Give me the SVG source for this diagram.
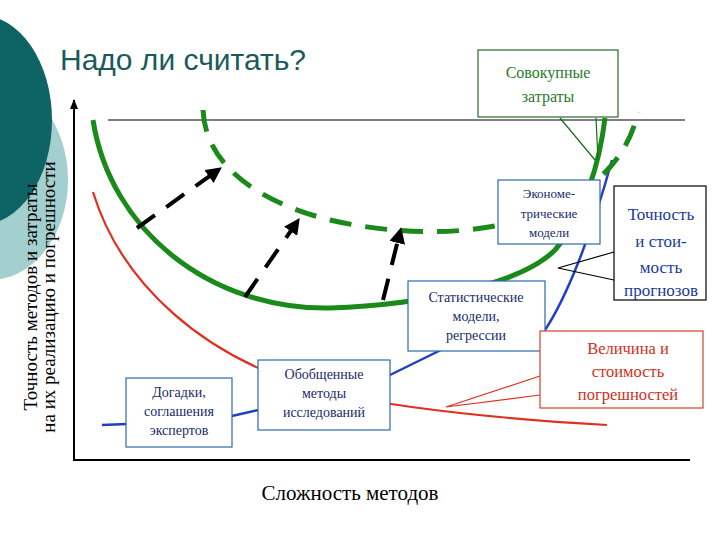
<svg xmlns="http://www.w3.org/2000/svg" width="720" height="540" viewBox="0 0 720 540">
<style>
.box{fill:#fff;stroke-width:1.2}
text{font-family:'Liberation Serif','Times New Roman',serif;text-anchor:middle}
.ax{stroke:#000;stroke-width:2;fill:none}
.arr{stroke:#000;stroke-width:4;fill:none;stroke-dasharray:22 14}
.lead{stroke-width:1.2;fill:none}
</style>
<defs>
<marker id="ah" viewBox="0 0 10 10" refX="7" refY="5" markerWidth="4" markerHeight="4" orient="auto"><path d="M0,0L10,5L0,10z" fill="#000"/></marker>
<marker id="ax" viewBox="0 0 10 10" refX="9" refY="5" markerWidth="5" markerHeight="5" orient="auto"><path d="M0,1L10,5L0,9z" fill="#000"/></marker>
</defs>
<ellipse cx="-10" cy="180" rx="78" ry="100" fill="#a4cfcf"/>
<ellipse cx="-20" cy="120" rx="72" ry="105" fill="#0e6464"/>
<text x="60" y="70" font-family="Liberation Sans,sans-serif" style="font-family:'Liberation Sans',sans-serif;text-anchor:start" font-size="30" fill="#1a5a5a">Надо ли считать?</text>
<g id="axes">
<line class="ax" x1="74" y1="460" x2="74" y2="100" marker-end="url(#ax)"/>
<line class="ax" x1="73" y1="460" x2="690" y2="460"/>
<line x1="108" y1="120" x2="685" y2="120" stroke="#000" stroke-width="1.2"/>
<text font-size="19" transform="translate(37,297) rotate(-90)">Точность  методов и  затраты</text>
<text font-size="19" transform="translate(55,297) rotate(-90)">на их реализацию и погрешности</text>
<text x="350" y="500" font-size="21">Сложность методов</text>
</g>
<g id="connectors">
<path d="M93,192 C120,280 200,360 330,393 C420,412 520,420 607,425" stroke="#e03020" stroke-width="2.2" fill="none"/>
<path d="M102,425 L127,424 M232,416 L258,410 M390,375 L447,347 M545,330 C565,300 590,240 612,160" stroke="#2040c0" stroke-width="2.5" fill="none"/>
<path d="M93,120 C110,230 210,310 330,308 C420,305 520,285 555,250 C585,215 600,160 605,118" stroke="#1a8a1a" stroke-width="5" fill="none"/>
<path d="M203,110 C205,160 250,200 330,220 C400,236 470,235 520,220 C580,200 625,170 638,112" stroke="#1a8a1a" stroke-width="5" fill="none" stroke-dasharray="22 14"/>
<path class="arr" d="M137,228 L218,170" marker-end="url(#ah)"/>
<path class="arr" d="M245,297 L297,222" marker-end="url(#ah)"/>
<path class="arr" d="M383,300 L400,232" marker-end="url(#ah)"/>
<path class="lead" stroke="#1a6a1a" d="M560,118 L595,160 M596,118 L598,160"/>
<path class="lead" stroke="#000" d="M614,252 L558,268 L614,280"/>
<path class="lead" stroke="#e03020" d="M540,376 L446,407 L540,395"/>
</g>
<g id="n-sov"><rect class="box" x="478" y="50" width="140" height="67" stroke="#2a6a2a"/>
<text font-size="16" fill="#2a7a2a"><tspan x="548" y="78">Совокупные</tspan><tspan x="548" y="102">затраты</tspan></text></g>
<g id="n-ekon"><rect class="box" x="498" y="180" width="102" height="64" stroke="#2a6ab0"/>
<text font-size="13" fill="#1a2a6a"><tspan x="549" y="198">Экономе-</tspan><tspan x="549" y="218">трические</tspan><tspan x="549" y="237">модели</tspan></text></g>
<g id="n-toch"><rect class="box" x="614" y="186" width="92" height="114" stroke="#000"/>
<text font-size="17" fill="#1a3a9a"><tspan x="661" y="220">Точность</tspan><tspan x="661" y="247">и стои-</tspan><tspan x="661" y="273">мость</tspan><tspan x="661" y="296">прогнозов</tspan></text></g>
<g id="n-stat"><rect class="box" x="408" y="281" width="137" height="70" stroke="#2a6ab0"/>
<text font-size="14" fill="#1a2a6a"><tspan x="476" y="302">Статистические</tspan><tspan x="476" y="321">модели,</tspan><tspan x="476" y="340">регрессии</tspan></text></g>
<g id="n-vel"><rect class="box" x="540" y="331" width="163" height="77" stroke="#d04030"/>
<text font-size="16.5" fill="#d03020"><tspan x="628" y="354">Величина и</tspan><tspan x="628" y="377">стоимость</tspan><tspan x="628" y="400">погрешностей</tspan></text></g>
<g id="n-dog"><rect class="box" x="126" y="378" width="106" height="69" stroke="#2a6ab0"/>
<text font-size="14" fill="#1a2a6a"><tspan x="179" y="397">Догадки,</tspan><tspan x="179" y="416">соглашения</tspan><tspan x="179" y="435">экспертов</tspan></text></g>
<g id="n-obob"><rect class="box" x="258" y="360" width="132" height="70" stroke="#2a6ab0"/>
<text font-size="14" fill="#1a2a6a"><tspan x="324" y="379">Обобщенные</tspan><tspan x="324" y="398">методы</tspan><tspan x="324" y="417">исследований</tspan></text></g>
</svg>
